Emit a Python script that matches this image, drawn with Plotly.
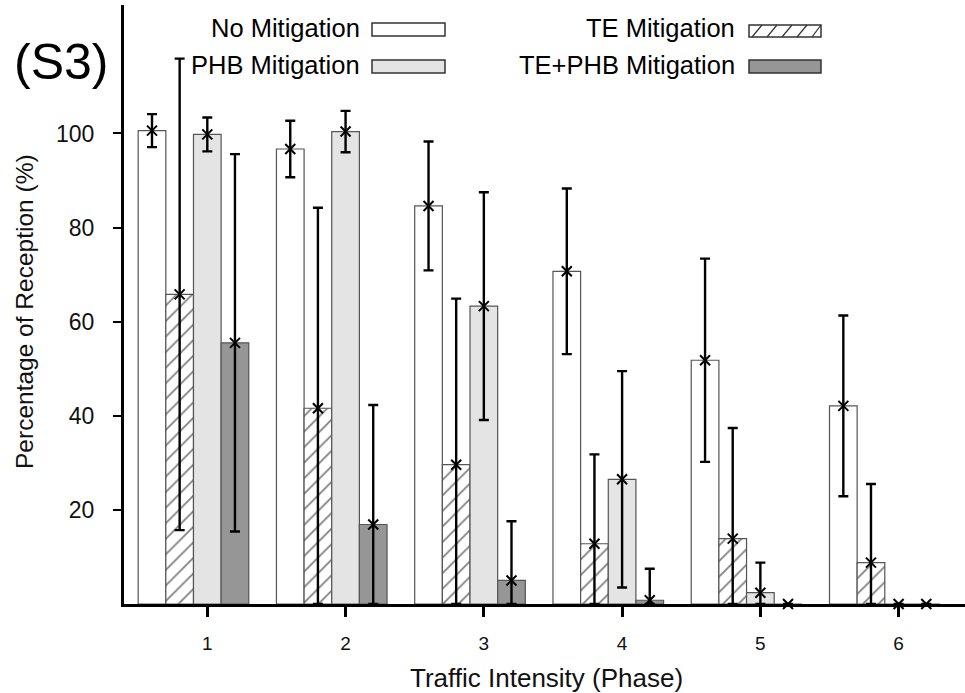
import plotly.graph_objects as go

# ---------------- data ----------------
phases = [1, 2, 3, 4, 5, 6]
series_names = ["No Mitigation", "TE Mitigation", "PHB Mitigation", "TE+PHB Mitigation"]

no_mit = [100.6, 96.7, 84.6, 70.7, 51.8, 42.1]
no_mit_err = [3.5, 6.0, 13.7, 17.6, 21.6, 19.2]

te_mit = [65.8, 41.6, 29.6, 12.8, 13.9, 8.8]
te_mit_err = [50.1, 42.6, 35.3, 19.0, 23.5, 16.7]

phb_mit = [99.8, 100.4, 63.3, 26.5, 2.4, 0.0]
phb_mit_err = [3.6, 4.4, 24.2, 23.0, 6.4, 0.0]

tephb_mit = [55.5, 16.9, 5.0, 0.8, 0.0, 0.0]
tephb_mit_err = [40.1, 25.4, 12.6, 6.7, 0.0, 0.0]

y_tick_vals = [20, 40, 60, 80, 100]
x_tick_vals = [1, 2, 3, 4, 5, 6]

# ---------------- styling ----------------
FONT = "Liberation Sans, Arial, Helvetica, sans-serif"
W, H = 965, 693
ML, MR, MT, MB = 124, 0, 5, 89
PW, PH = W - ML - MR, H - MT - MB

bar_width = 0.2
offsets = [-0.5, -0.3, -0.1, 0.1]       # left edge of each bar relative to the phase
fills = ["#ffffff", "#ffffff", "#e4e4e4", "#969696"]
outline = "#555555"

values = [no_mit, te_mit, phb_mit, tephb_mit]
errors = [no_mit_err, te_mit_err, phb_mit_err, tephb_mit_err]

fig = go.Figure()

for i, name in enumerate(series_names):
    marker = dict(color=fills[i], line=dict(color=outline, width=1.2))
    if i == 1:
        marker["pattern"] = dict(shape="/", fgcolor="#000000", bgcolor="#ffffff",
                                 size=11, solidity=0.16, fillmode="overlay")
    fig.add_trace(go.Bar(
        x=phases, y=values[i], width=bar_width, offset=offsets[i],
        marker=marker, name=name, showlegend=False,
    ))

for i, name in enumerate(series_names):
    centers = [p + offsets[i] + bar_width / 2 for p in phases]
    minus = [min(e, v) for e, v in zip(errors[i], values[i])]
    fig.add_trace(go.Scatter(
        x=centers, y=values[i], mode="markers", showlegend=False,
        marker=dict(symbol="x-thin-open", size=10, color="black",
                    line=dict(color="black", width=2)),
        error_y=dict(type="data", array=errors[i], arrayminus=minus,
                     symmetric=False, color="black", thickness=2.4, width=5),
        cliponaxis=False,
    ))

# ---------------- manual legend ----------------
def px_x(x):
    return (x - ML) / PW

def px_y(y):
    return (MT + PH - y) / PH

legend_items = [
    # name, text right edge, text centre y, box x0, x1, y0, y1
    (series_names[0], 362, 28, 372, 445, 23, 36),
    (series_names[2], 362, 65, 372, 445, 60, 73),
    (series_names[1], 737, 28, 749, 821, 25, 37),
    (series_names[3], 737, 65, 749, 821, 60, 73),
]
legend_fill = {series_names[0]: fills[0], series_names[1]: fills[1],
               series_names[2]: fills[2], series_names[3]: fills[3]}

annotations = []
shapes = []
for name, tx, ty, x0, x1, y0, y1 in legend_items:
    annotations.append(dict(
        text=name, x=px_x(tx), y=px_y(ty), xref="paper", yref="paper",
        xanchor="right", yanchor="middle", showarrow=False,
        font=dict(family=FONT, size=25.5, color="black"),
    ))
    shapes.append(dict(
        type="rect", xref="paper", yref="paper",
        x0=px_x(x0), x1=px_x(x1), y0=px_y(y1), y1=px_y(y0),
        fillcolor=legend_fill[name], line=dict(color="#333333", width=1.5),
    ))
    if name == series_names[1]:
        for k in range(5):
            lx = x0 + 3 + k * 15
            shapes.append(dict(
                type="line", xref="paper", yref="paper",
                x0=px_x(lx), y0=px_y(y1), x1=px_x(min(lx + 10, x1)), y1=px_y(y0),
                line=dict(color="#333333", width=1.2),
            ))

annotations.append(dict(
    text="(S3)", x=px_x(61), y=px_y(62), xref="paper", yref="paper",
    xanchor="center", yanchor="middle", showarrow=False,
    font=dict(family=FONT, size=50, color="black"),
))
annotations.append(dict(
    text="Traffic Intensity (Phase)", x=px_x(546), y=px_y(678), xref="paper", yref="paper",
    xanchor="center", yanchor="middle", showarrow=False,
    font=dict(family=FONT, size=26, color="#111111"),
))
annotations.append(dict(
    text="Percentage of Reception (%)", x=px_x(25), y=px_y(312), xref="paper", yref="paper",
    xanchor="center", yanchor="middle", showarrow=False, textangle=-90,
    font=dict(family=FONT, size=24.5, color="#111111"),
))

fig.update_layout(
    width=W, height=H,
    margin=dict(l=ML, r=MR, t=MT, b=MB, pad=0),
    paper_bgcolor="white", plot_bgcolor="white",
    barmode="overlay",
    showlegend=False,
    font=dict(family=FONT, color="black"),
    annotations=annotations,
    shapes=shapes,
    xaxis=dict(
        range=[0.3975, 6.48], tickvals=x_tick_vals, ticktext=[str(v) for v in x_tick_vals],
        showgrid=False, zeroline=False, showline=True, linecolor="black", linewidth=3,
        ticks="outside", ticklen=10, tickwidth=3, tickcolor="black",
        tickfont=dict(family=FONT, size=19, color="#111111"), ticklabelstandoff=10,
    ),
    yaxis=dict(
        range=[0, 127.3], tickvals=y_tick_vals, ticktext=[str(v) for v in y_tick_vals],
        showgrid=False, zeroline=False, showline=True, linecolor="black", linewidth=3,
        ticks="outside", ticklen=8, tickwidth=2, tickcolor="black",
        tickfont=dict(family=FONT, size=23, color="#111111"), ticklabelstandoff=14,
    ),
)

fig.write_html("out.html")
